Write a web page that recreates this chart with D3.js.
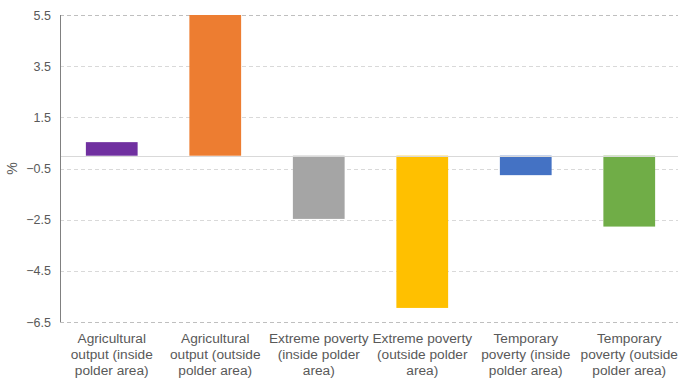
<!DOCTYPE html>
<html>
<head>
<meta charset="utf-8">
<script src="https://cdn.jsdelivr.net/npm/d3@7"></script>
<style>
  html, body { margin: 0; padding: 0; background: #fff; }
  svg { display: block; font-family: "Liberation Sans", Arial, sans-serif; }
</style>
</head>
<body>
<svg id="chart" width="678" height="381"></svg>
<script>
// Percentage change by indicator
const categories = [
  ["Agricultural", "output (inside", "polder area)"],
  ["Agricultural", "output (outside", "polder area)"],
  ["Extreme poverty", "(inside polder", "area)"],
  ["Extreme poverty", "(outside polder", "area)"],
  ["Temporary", "poverty (inside", "polder area)"],
  ["Temporary", "poverty (outside", "polder area)"]
];
const values = [0.53, 5.5, -2.47, -5.95, -0.76, -2.77];
const colors = ["#7030a0", "#ed7d31", "#a5a5a5", "#ffc000", "#4472c4", "#70ad47"];
const yTicks = [5.5, 3.5, 1.5, -0.5, -2.5, -4.5, -6.5];
const yLabel = "%";

const svg = d3.select("#chart");
const margin = { left: 60, right: -3, top: 15, bottom: 59 };
const width = 678 - margin.left - margin.right;
const height = 381 - margin.top - margin.bottom;

const g = svg.append("g").attr("transform", `translate(${margin.left},${margin.top})`);

const x = d3.scaleBand().domain(d3.range(categories.length)).range([0, width]).paddingInner(0.5).paddingOuter(0.25);
const y = d3.scaleLinear().domain([-6.5, 5.5]).range([height, 0]);

// dashed horizontal gridlines
g.selectAll("line.grid").data(yTicks).join("line")
  .attr("class", "grid")
  .attr("x1", 0).attr("x2", width)
  .attr("y1", d => Math.round(y(d)) + 0.5).attr("y2", d => Math.round(y(d)) + 0.5)
  .attr("stroke", d => (d === 5.5 || d === -6.5) ? "#bfbfbf" : "#d9d9d9")
  .attr("stroke-width", 1)
  .attr("stroke-dasharray", "4,3");

// bars
g.selectAll("rect.bar").data(values).join("rect")
  .attr("class", "bar")
  .attr("x", (d, i) => x(i))
  .attr("width", x.bandwidth())
  .attr("y", d => y(Math.max(0, d)))
  .attr("height", d => Math.abs(y(d) - y(0)))
  .attr("fill", (d, i) => colors[i]);

// zero baseline
g.append("line")
  .attr("x1", 0).attr("x2", width)
  .attr("y1", Math.round(y(0)) + 0.5).attr("y2", Math.round(y(0)) + 0.5)
  .attr("stroke", "#d9d9d9").attr("stroke-width", 1);

// left axis
const yAxis = g.append("g").call(d3.axisLeft(y).tickValues(yTicks).tickSize(0).tickPadding(9).tickFormat(d3.format(".1f")));
yAxis.select(".domain").attr("stroke", "#808080").attr("d", `M0.5,0V${height}`);
yAxis.selectAll("text").attr("fill", "#595959").attr("font-size", 12.5);

// category labels
const xl = g.append("g").attr("transform", `translate(0,${height})`);
categories.forEach((lines, i) => {
  const cx = x(i) + x.bandwidth() / 2;
  const t = xl.append("text")
    .attr("x", cx)
    .attr("y", 21)
    .attr("text-anchor", "middle")
    .attr("fill", "#595959")
    .attr("font-size", 13.7);
  lines.forEach((s, k) => t.append("tspan").attr("x", cx).attr("dy", k === 0 ? 0 : 16).text(s));
});

// axis title
svg.append("text")
  .attr("transform", `translate(17,${margin.top + y(-0.5)}) rotate(-90)`)
  .attr("text-anchor", "middle")
  .attr("fill", "#595959")
  .attr("font-size", 14)
  .text(yLabel);
</script>
</body>
</html>
